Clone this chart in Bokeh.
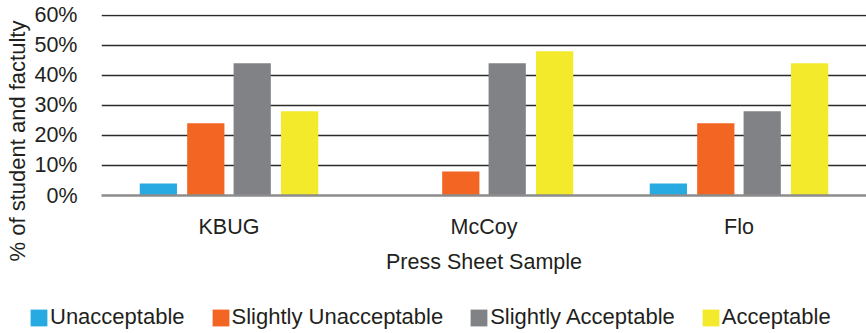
from bokeh.plotting import figure
from bokeh.layouts import row, column
from bokeh.models import (ColumnDataSource, FactorRange, Range1d, FixedTicker,
                          NumeralTickFormatter, Legend, LegendItem, Title)
from bokeh.transform import dodge
from bokeh.embed import file_html
from bokeh.resources import INLINE

categories = ["KBUG", "McCoy", "Flo"]
series = ["Unacceptable", "Slightly Unacceptable", "Slightly Acceptable", "Acceptable"]
unacceptable = [0.04, 0.0, 0.04]
slightly_unacceptable = [0.24, 0.08, 0.24]
slightly_acceptable = [0.44, 0.44, 0.28]
acceptable = [0.28, 0.48, 0.44]
y_ticks = [0.0, 0.1, 0.2, 0.3, 0.4, 0.5, 0.6]
colors = ["#27aae1", "#f26522", "#818286", "#f3ea2c"]
offsets = [-0.277, -0.091, 0.091, 0.277]

FONT = "Liberation Sans"
TXT = "#231f20"

MAIN_H = 280

src = ColumnDataSource(dict(cat=categories, s0=unacceptable, s1=slightly_unacceptable,
                            s2=slightly_acceptable, s3=acceptable))

p = figure(x_range=FactorRange(*categories, range_padding=0), y_range=Range1d(0, 0.602),
           width=866, height=MAIN_H, output_backend="svg", toolbar_location=None,
           min_border_left=100, min_border_right=0, min_border_top=14,
           min_border_bottom=MAIN_H - 195)

for i, key in enumerate(["s0", "s1", "s2", "s3"]):
    p.vbar(x=dodge("cat", offsets[i], range=p.x_range), top=key, width=0.146,
           source=src, fill_color=colors[i], line_color=None)

p.outline_line_color = None
p.xgrid.grid_line_color = None
p.ygrid.grid_line_color = "#2b2b2b"
p.ygrid.grid_line_width = 1.6
p.ygrid.ticker = FixedTicker(ticks=y_ticks)

p.yaxis.ticker = FixedTicker(ticks=y_ticks)
p.yaxis.formatter = NumeralTickFormatter(format="0%")
p.yaxis.axis_line_color = None
p.yaxis.major_tick_line_color = None
p.yaxis.minor_tick_line_color = None
p.yaxis.major_label_standoff = 18
p.yaxis.major_label_text_font = FONT
p.yaxis.major_label_text_font_size = "21.5px"
p.yaxis.major_label_text_color = TXT

p.xaxis.axis_line_color = "#8c8c8c"
p.xaxis.axis_line_width = 2.5
p.xaxis.major_tick_line_color = None
p.xaxis.minor_tick_line_color = None
p.xaxis.major_label_standoff = 13
p.xaxis.major_label_text_font = FONT
p.xaxis.major_label_text_font_size = "21.5px"
p.xaxis.major_label_text_color = TXT
p.xaxis.axis_label = "Press Sheet Sample"
p.xaxis.axis_label_standoff = 8
p.xaxis.axis_label_text_font = FONT
p.xaxis.axis_label_text_font_size = "21.5px"
p.xaxis.axis_label_text_font_style = "normal"
p.xaxis.axis_label_text_color = TXT

p.add_layout(Title(text="% of student and factulty", align="left", offset=-66,
                   text_font=FONT, text_font_size="22px", text_font_style="normal",
                   text_color=TXT, standoff=4), "left")

# bottom strip holding the legend
LEG_H = 333 - MAIN_H
leg = figure(width=866, height=LEG_H, x_range=Range1d(0, 1), y_range=Range1d(0, 1),
             output_backend="svg", toolbar_location=None, min_border=0)
leg.outline_line_color = None
leg.axis.visible = False
leg.grid.visible = False
proxy = ColumnDataSource(dict(x=[-10], top=[0]))
leg_renderers = [leg.vbar(x="x", top="top", width=0.1, source=proxy, fill_color=c, line_color=None)
                 for c in colors]
legend = Legend(items=[LegendItem(label=series[i], renderers=[leg_renderers[i]]) for i in range(4)],
                orientation="horizontal", location=(28, 3),
                glyph_width=21, glyph_height=21, label_standoff=1, spacing=25,
                padding=0, margin=0, border_line_color=None, background_fill_alpha=0,
                label_text_font=FONT, label_text_font_size="22px", label_text_color=TXT,
                label_height=21)
leg.add_layout(legend, "center")

layout = column(row(p, spacing=0), leg, spacing=0)
open("out.html", "w").write(file_html(layout, INLINE))
